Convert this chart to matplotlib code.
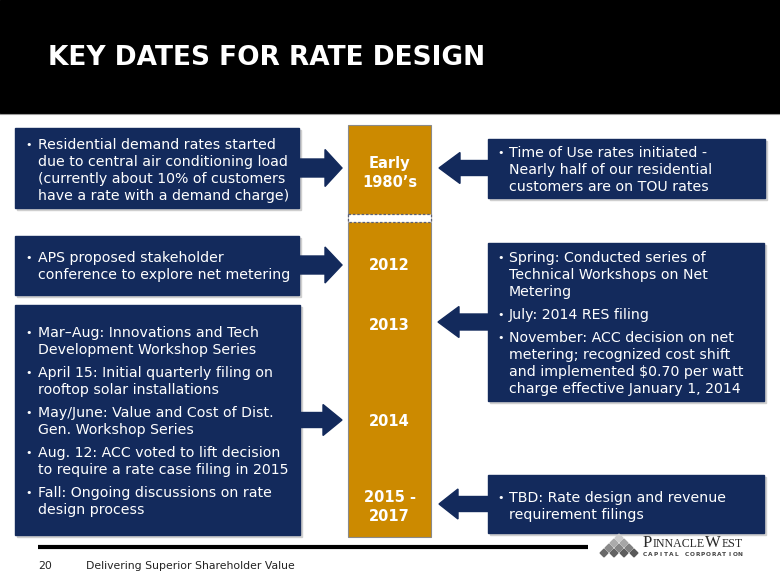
import matplotlib.pyplot as plt
from matplotlib.patches import Rectangle, Polygon
import numpy as np

# colours
NAVY = '#132a5c'
GOLD = '#cc8a00'

title = "KEY DATES FOR RATE DESIGN"

# timeline labels (lines) and their centre heights
years = [["Early", "1980’s"], ["2012"], ["2013"], ["2014"], ["2015 -", "2017"]]
year_y = [172, 265, 325, 421, 506]

# left column bullets
left1 = [["Residential demand rates started", "due to central air conditioning load",
          "(currently about 10% of customers", "have a rate with a demand charge)"]]
left2 = [["APS proposed stakeholder", "conference to explore net metering"]]
left3 = [["Mar–Aug: Innovations and Tech", "Development Workshop Series"],
         ["April 15: Initial quarterly filing on", "rooftop solar installations"],
         ["May/June: Value and Cost of Dist.", "Gen. Workshop Series"],
         ["Aug. 12: ACC voted to lift decision", "to require a rate case filing in 2015"],
         ["Fall: Ongoing discussions on rate", "design process"]]

# right column bullets
right1 = [["Time of Use rates initiated -", "Nearly half of our residential",
           "customers are on TOU rates"]]
right2 = [["Spring: Conducted series of", "Technical Workshops on Net", "Metering"],
          ["July: 2014 RES filing"],
          ["November: ACC decision on net", "metering; recognized cost shift",
           "and implemented $0.70 per watt", "charge effective January 1, 2014"]]
right3 = [["TBD: Rate design and revenue", "requirement filings"]]

footer_num = "20"
footer_text = "Delivering Superior Shareholder Value"

fig = plt.figure(figsize=(7.8, 5.85), dpi=100)
ax = fig.add_axes([0, 0, 1, 1])
ax.set_xlim(0, 780)
ax.set_ylim(585, 0)
ax.axis('off')

# title bar
ax.add_patch(Rectangle((0, 0), 780, 113, color='black', zorder=1))
ax.plot([0, 780], [114, 114], color='#9a9a9a', lw=0.8)
ax.text(48, 58, title, color='white', fontsize=19, fontweight='bold', va='center')


def box(x0, y0, x1, y1):
    ax.add_patch(Rectangle((x0 + 1.5, y0 + 2), x1 - x0, y1 - y0, color='#cfcfcf', zorder=1))
    ax.add_patch(Rectangle((x0, y0), x1 - x0, y1 - y0, color=NAVY, zorder=2))


def bullets(items, y, bx, tx):
    for lines in items:
        ax.text(bx, y + 4, '•', color='white', fontsize=8, va='baseline', zorder=5)
        for ln in lines:
            ax.text(tx, y + 5, ln, color='white', fontsize=10.2, va='baseline', zorder=5)
            y += 17
        y += 6


def arrow(x0, xh, xt, yc, sh, hh):
    pts = [(x0, yc - sh), (xh, yc - sh), (xh, yc - hh), (xt, yc),
           (xh, yc + hh), (xh, yc + sh), (x0, yc + sh)]
    ax.add_patch(Polygon(pts, closed=True, color=NAVY, zorder=3))


# timeline bar
ax.add_patch(Rectangle((348, 125), 83, 412, facecolor=GOLD, edgecolor='#8a8a8a',
                       lw=0.8, zorder=2))
ax.add_patch(Rectangle((348, 214), 83, 8, facecolor='white', edgecolor='#5a6078',
                       lw=0.9, ls=(0, (2, 1.5)), zorder=3))
for lines, yc in zip(years, year_y):
    off = -(len(lines) - 1) * 9.5
    for i, ln in enumerate(lines):
        ax.text(389.5, yc + off + i * 19 + 5.3, ln, color='white', fontsize=10.5,
                fontweight='bold', ha='center', va='baseline', zorder=5)

# left boxes + arrows
box(15, 128, 299, 208)
arrow(290, 325, 342, 168, 9, 18.5)
bullets(left1, 144, 25, 38)
box(15, 236, 299, 295)
arrow(290, 325, 342, 265, 9, 18)
bullets(left2, 257, 25, 38)
box(15, 305, 300, 535)
arrow(290, 323, 342, 420, 7.5, 15.5)
bullets(left3, 332, 25, 38)

# right boxes + arrows
box(488, 139, 765, 198)
arrow(495, 460, 439, 168, 7.5, 15.5)
bullets(right1, 152, 497, 509)
box(488, 243, 764, 401)
arrow(495, 459, 438, 322, 8, 15.5)
bullets(right2, 257, 497, 509)
box(488, 475, 764, 533)
arrow(495, 458, 439, 504, 7.5, 15)
bullets(right3, 497, 497, 509)

# footer
ax.plot([38, 588], [547, 547], color='black', lw=3, solid_capstyle='butt')
ax.text(38, 566, footer_num, fontsize=7.8, color='#222222', va='center')
ax.text(86, 566, footer_text, fontsize=7.8, color='#222222', va='center')

# logo diamonds
for r in range(4):
    for i in range(r + 1):
        cx = 619 + (i - r / 2) * 10
        cy = 538 + r * 5
        shade = 0.80 - r * 0.13 - i * 0.02
        d = 3.9
        ax.add_patch(Polygon([(cx, cy - d), (cx + d, cy), (cx, cy + d), (cx - d, cy)],
                             closed=True, color=str(shade), zorder=4))

# logo text with small caps
renderer = fig.canvas.get_renderer()
x = 643
for s, size in [("P", 12), ("INNACLE", 8.6), ("W", 12), ("EST", 8.6)]:
    t = ax.text(x, 547, s, fontsize=size, family='Liberation Serif', color='#2a2a2a',
                va='baseline', zorder=5)
    x += t.get_window_extent(renderer).width
    if s == "INNACLE":
        x += 1
for cx, ch in zip(np.linspace(645, 740, 19), "CAPITAL CORPORATION"):
    ax.text(cx, 554.5, ch, fontsize=4.2, color='#444444', ha='center', va='center',
            fontweight='bold')

fig.savefig('out.png', dpi=100)
